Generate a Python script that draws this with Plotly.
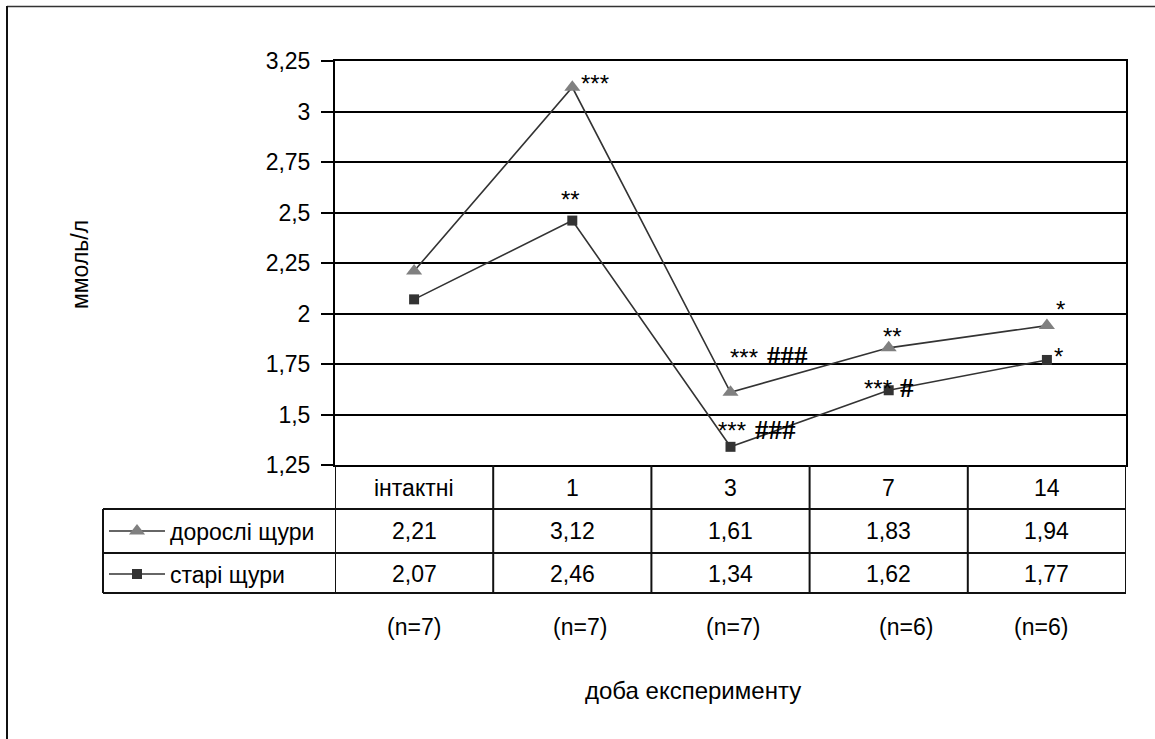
import plotly.graph_objects as go

# ---- data ----
categories = ["інтактні", "1", "3", "7", "14"]
adult_name = "дорослі щури"
old_name = "старі щури"
adult_values = [2.21, 3.12, 1.61, 1.83, 1.94]
old_values = [2.07, 2.46, 1.34, 1.62, 1.77]
n_labels = ["(n=7)", "(n=7)", "(n=7)", "(n=6)", "(n=6)"]
adult_marks = [None, "***", "***|###", "**", "*"]
old_marks = [None, "**", "***|###", "***|#", "*"]
y_ticks = [1.25, 1.5, 1.75, 2.0, 2.25, 2.5, 2.75, 3.0, 3.25]
y_title = "ммоль/л"
x_title = "доба експерименту"

# ---- layout helpers (pixels -> paper) ----
W, H = 1155, 739
L, R, T, B = 335, 1126, 61, 465


def px(x):
    return x / W


def py(y):
    return 1 - y / H


FONT = "Liberation Sans, Arial, sans-serif"
SERIF = "Liberation Serif, Times New Roman, serif"
FS = 23
xi = list(range(len(categories)))


def fmt(v):
    return f"{v:.2f}".replace(".", ",")


fig = go.Figure()
fig.add_trace(go.Scatter(
    x=xi, y=adult_values, name=adult_name, mode="lines+markers",
    line=dict(color="#333333", width=1.6),
    marker=dict(symbol="triangle-up", size=14, color="#808080"),
    cliponaxis=False, legend="legend",
))
fig.add_trace(go.Scatter(
    x=xi, y=old_values, name=old_name, mode="lines+markers",
    line=dict(color="#333333", width=1.6),
    marker=dict(symbol="square", size=10, color="#333333"),
    cliponaxis=False, legend="legend2",
))

ann = []
# significance marks (offsets in pixels from the data point)
adult_off = [None, [(23, 4)], [(13, 35), (57, 36)], [(4, 11)], [(14, 16)]]
old_off = [None, [(-2, 21)], [(1, 16), (45, 17)], [(-11, 2), (18, 2)], [(12, 3)]]
for marks, offs, vals in ((adult_marks, adult_off, adult_values), (old_marks, old_off, old_values)):
    for i, m in enumerate(marks):
        if not m:
            continue
        parts = m.split("|")
        for part, (dx, dy) in zip(parts, offs[i]):
            is_hash = part.startswith("#")
            ann.append(dict(
                x=i, y=vals[i], xref="x", yref="y",
                text=f"<b>{part}</b>" if is_hash else part, showarrow=False,
                xshift=dx, yshift=dy, xanchor="center", yanchor="middle",
                font=dict(family=SERIF if is_hash else FONT,
                          size=27 if is_hash else 24, color="#000000"),
            ))


def cell(x, y, text, xref="x", **kw):
    d = dict(x=x, y=y, xref=xref, yref="paper", text=text, showarrow=False,
             xanchor="center", yanchor="middle",
             font=dict(family=FONT, size=FS, color="#000"))
    d.update(kw)
    return d


# data table text
for i, c in enumerate(categories):
    ann.append(cell(i, py(488), c))
    ann.append(cell(i, py(531), fmt(adult_values[i])))
    ann.append(cell(i, py(574), fmt(old_values[i])))

# n labels (text boxes placed by hand in the original)
n_shift = [0, 8, 2, 17, -6]
for i, t in enumerate(n_labels):
    ann.append(cell(i, py(627), t, xshift=n_shift[i]))

ann.append(cell(px(693), py(690), x_title, xref="paper",
                font=dict(family=FONT, size=24, color="#000")))
ann.append(cell(px(80), py(265), y_title, xref="paper", textangle=-90))

shapes = []
LW = 2
# outer chart frame (top and left visible)
shapes.append(dict(type="line", xref="paper", yref="paper", x0=px(7), x1=px(1160),
                   y0=py(6.5), y1=py(6.5), line=dict(color="#333", width=1.5)))
shapes.append(dict(type="line", xref="paper", yref="paper", x0=px(7), x1=px(7),
                   y0=py(6), y1=py(745), line=dict(color="#111", width=2)))
# table horizontal lines
for yy in (509, 553, 593):
    shapes.append(dict(type="line", xref="paper", yref="paper", x0=px(103), x1=px(R),
                       y0=py(yy), y1=py(yy), line=dict(color="#111", width=LW)))
# legend column left border
shapes.append(dict(type="line", xref="paper", yref="paper", x0=px(103), x1=px(103),
                   y0=py(509), y1=py(593), line=dict(color="#111", width=LW)))
# column separators (category boundaries)
for k in range(len(categories) + 1):
    shapes.append(dict(type="line", xref="x", yref="paper", x0=k - 0.5, x1=k - 0.5,
                       y0=py(B), y1=py(593), line=dict(color="#111", width=LW)))

fig.update_layout(
    width=W, height=H, autosize=False,
    margin=dict(l=0, r=0, t=0, b=0, autoexpand=False),
    paper_bgcolor="white", plot_bgcolor="white",
    separators=", ",
    showlegend=True,
    font=dict(family=FONT, size=FS, color="#000"),
    xaxis=dict(domain=[px(L), px(R)], range=[-0.5, len(categories) - 0.5],
               showticklabels=False, ticks="", showgrid=False, zeroline=False,
               showline=True, linecolor="#000", linewidth=LW, mirror=True,
               fixedrange=True, automargin=False),
    yaxis=dict(domain=[py(B), py(T)], range=[y_ticks[0], y_ticks[-1]],
               tickmode="array", tickvals=y_ticks,
               ticks="outside", ticklen=12, tickwidth=LW, tickcolor="#000",
               showgrid=True, gridcolor="#000", gridwidth=LW, zeroline=False,
               showline=True, linecolor="#000", linewidth=LW, mirror=True,
               tickfont=dict(family=FONT, size=FS, color="#000"),
               ticklabelstandoff=6, fixedrange=True, automargin=False),
    legend=dict(x=px(104), y=py(531), xanchor="left", yanchor="middle",
                bgcolor="rgba(0,0,0,0)", borderwidth=0,
                font=dict(family=FONT, size=FS, color="#000"), itemwidth=56),
    legend2=dict(x=px(104), y=py(574), xanchor="left", yanchor="middle",
                 bgcolor="rgba(0,0,0,0)", borderwidth=0,
                 font=dict(family=FONT, size=FS, color="#000"), itemwidth=56),
    annotations=ann,
    shapes=shapes,
)

fig.write_html(
    "out.html",
    config={"responsive": False, "displayModeBar": False},
    post_script="document.body.style.margin='0px';document.body.style.padding='0px';",
)
